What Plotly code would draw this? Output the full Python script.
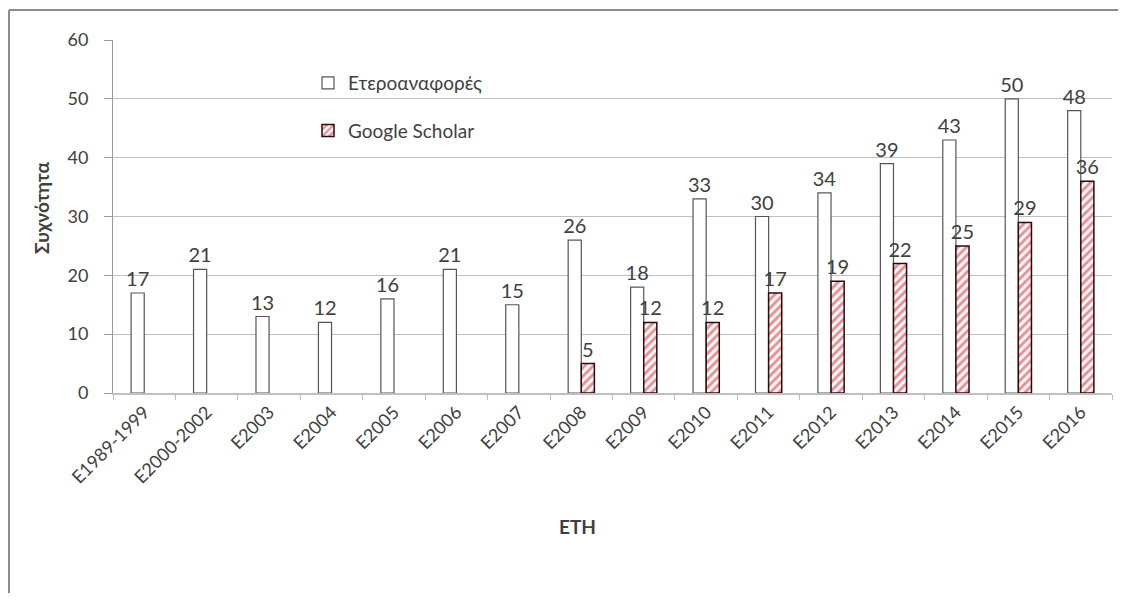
import plotly.graph_objects as go

categories = ["E1989-1999", "E2000-2002", "E2003", "E2004", "E2005", "E2006", "E2007",
              "E2008", "E2009", "E2010", "E2011", "E2012", "E2013", "E2014", "E2015", "E2016"]
heteroref = [17, 21, 13, 12, 16, 21, 15, 26, 18, 33, 30, 34, 39, 43, 50, 48]
scholar = [None, None, None, None, None, None, None, 5, 12, 12, 17, 19, 22, 25, 29, 36]

FONT = "Lato"
TXT = "#404040"

fig = go.Figure()
fig.add_trace(go.Bar(
    x=categories, y=heteroref, name="Ετεροαναφορές", legendgroup="a",
    marker=dict(color="white", line=dict(color="#555555", width=1.2)),
    text=[str(v) for v in heteroref], textposition="outside",
    textfont=dict(family=FONT, size=20, color=TXT), cliponaxis=False,
))
fig.add_trace(go.Bar(
    x=categories, y=scholar, name="Google Scholar", legendgroup="b",
    marker=dict(color="white", line=dict(color="#2a0a0a", width=1.5),
                pattern=dict(shape="/", fgcolor="#d8202c", bgcolor="white", size=6, solidity=0.5)),
    text=[("" if v is None else str(v)) for v in scholar], textposition="outside",
    textfont=dict(family=FONT, size=20, color=TXT), cliponaxis=False,
))

OFF = 8  # page body offset
W, H = 1126 - 2 * OFF, 601 - 2 * OFF
L, R, T, B = 113 - OFF, 1112 - OFF, 40 - OFF, 393 - OFF
pw, ph = R - L, B - T

def px(x):
    return (x - OFF - L) / pw

def py(y):
    return (B - (y - OFF)) / ph

BORDER = dict(color="#8c8c8c", width=2)

fig.update_layout(
    width=W, height=H,
    margin=dict(l=L, r=W - R, t=T, b=H - B),
    paper_bgcolor="white", plot_bgcolor="white",
    barmode="group", bargap=0.58, bargroupgap=0.0,
    uniformtext=dict(minsize=20, mode="show"),
    font=dict(family=FONT, color=TXT),
    showlegend=True,
    legend=dict(x=px(308), y=py(64), xanchor="left", yanchor="top",
                font=dict(family=FONT, size=19, color=TXT),
                tracegroupgap=20, bgcolor="rgba(0,0,0,0)", itemwidth=30),
    xaxis=dict(
        tickangle=-45, tickfont=dict(family=FONT, size=18, color=TXT),
        showline=True, linecolor="#bfbfbf", linewidth=1.5,
        ticks="outside", ticklen=5, tickcolor="#bfbfbf", tickson="boundaries",
        showgrid=False,
    ),
    yaxis=dict(
        range=[0, 60], dtick=10, tickfont=dict(family=FONT, size=18, color=TXT),
        showline=True, linecolor="#999999", linewidth=1,
        ticks="outside", ticklen=8, tickcolor="#999999", ticklabelstandoff=12,
        showgrid=True, gridcolor="#bfbfbf", gridwidth=1, zeroline=False,
    ),
    annotations=[
        dict(text="<b>Συχνότητα</b>", x=px(41), y=py(208), xref="paper", yref="paper",
             textangle=-90, showarrow=False, font=dict(family=FONT, size=19, color=TXT),
             xanchor="center", yanchor="middle"),
        dict(text="<b>ETH</b>", x=px(577), y=py(526), xref="paper", yref="paper",
             showarrow=False, font=dict(family=FONT, size=19, color=TXT),
             xanchor="center", yanchor="middle"),
    ],
    shapes=[
        dict(type="line", xref="paper", yref="paper",
             x0=px(9), x1=px(9), y0=py(10), y1=py(700), line=BORDER, layer="below"),
        dict(type="line", xref="paper", yref="paper",
             x0=px(9), x1=px(1200), y0=py(10), y1=py(10), line=BORDER, layer="below"),
    ],
)

fig.write_html("out.html")
